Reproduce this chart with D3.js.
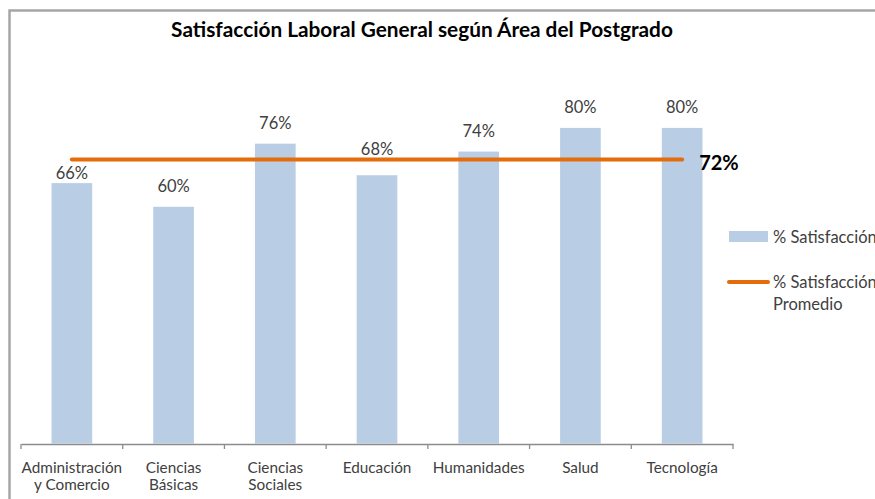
<!DOCTYPE html>
<html lang="es">
<head>
<meta charset="UTF-8" />
<title>Satisfacción Laboral General según Área del Postgrado</title>
<script src="https://cdn.jsdelivr.net/npm/d3@7"></script>
<style>
  body { margin: 0; background: #fff; }
  text { font-family: Lato, "Open Sans", sans-serif; }
</style>
</head>
<body>
<div id="chart"></div>
<script>
// data
const categories = ["Administración y Comercio", "Ciencias Básicas", "Ciencias Sociales",
  "Educación", "Humanidades", "Salud", "Tecnología"];
const tickLabels = [["Administración", "y Comercio"], ["Ciencias", "Básicas"], ["Ciencias", "Sociales"],
  ["Educación"], ["Humanidades"], ["Salud"], ["Tecnología"]];
const satisfaccion = [66, 60, 76, 68, 74, 80, 80];
const promedio = 72;
const legendLabels = [["% Satisfacción"], ["% Satisfacción", "Promedio"]];

const W = 875, H = 499;
const barColor = "#b9cde5", lineColor = "#e46c0a", textColor = "#404040";

const svg = d3.select("#chart").append("svg")
  .attr("width", W).attr("height", H);

svg.append("rect").attr("width", W).attr("height", H).attr("fill", "#fff");

// chart frame (only left and top visible)
svg.append("path")
  .attr("d", `M9.5,${H} V10.5 H${W}`)
  .attr("fill", "none").attr("stroke", "#a6a6a6").attr("stroke-width", 2.5);

svg.append("text")
  .attr("x", 422).attr("y", 37)
  .attr("text-anchor", "middle")
  .attr("font-size", 20.8).attr("font-weight", "bold").attr("fill", "#000")
  .text("Satisfacción Laboral General según Área del Postgrado");

const x = d3.scaleBand()
  .domain(categories)
  .range([21, 733])
  .paddingInner(0.6)
  .paddingOuter(0.3);

const y = d3.scaleLinear()
  .domain([0, 100])
  .range([443.5, 49]);

// bars
svg.append("g")
  .selectAll("rect")
  .data(categories)
  .join("rect")
  .attr("x", d => x(d))
  .attr("y", (d, i) => y(satisfaccion[i]))
  .attr("width", x.bandwidth())
  .attr("height", (d, i) => y(0) - y(satisfaccion[i]))
  .attr("fill", barColor);

// x axis
const xAxis = svg.append("g")
  .attr("transform", `translate(0,${y(0) + 0.5})`)
  .call(d3.axisBottom(x).tickSize(0).tickFormat(""));
xAxis.select(".domain").attr("stroke", "#8c8c8c").attr("stroke-width", 1.3);
// tick marks sit on the band boundaries, like Excel
const step = x.step();
const bounds = d3.range(categories.length + 1).map(i => 21 + i * step);
xAxis.selectAll(".bound")
  .data(bounds)
  .join("line")
  .attr("x1", d => d).attr("x2", d => d)
  .attr("y1", 0).attr("y2", 5)
  .attr("stroke", "#8c8c8c").attr("stroke-width", 1.3);

// tick labels
svg.append("g")
  .selectAll("text")
  .data(categories)
  .join("text")
  .attr("x", d => x(d) + x.bandwidth() / 2)
  .attr("y", 472.5)
  .attr("text-anchor", "middle")
  .attr("font-size", 15.3)
  .attr("fill", textColor)
  .each(function (d, i) {
    d3.select(this).selectAll("tspan")
      .data(tickLabels[i])
      .join("tspan")
      .attr("x", x(d) + x.bandwidth() / 2)
      .attr("dy", (t, j) => j === 0 ? 0 : 17.5)
      .text(t => t);
  });

// average line, from first to last band centre
const first = categories[0], last = categories[categories.length - 1];
const lineY = y(promedio);
svg.append("line")
  .attr("x1", x(first) + x.bandwidth() / 2)
  .attr("x2", x(last) + x.bandwidth() / 2)
  .attr("y1", lineY).attr("y2", lineY)
  .attr("stroke", lineColor).attr("stroke-width", 4)
  .attr("stroke-linecap", "round");

svg.append("text")
  .attr("x", x(last) + x.bandwidth() / 2 + 17)
  .attr("y", lineY + 11)
  .attr("font-size", 20).attr("font-weight", "bold").attr("fill", "#000")
  .text(promedio + "%");

// data labels, moved off the average line when they would touch it
svg.append("g")
  .selectAll("text")
  .data(categories)
  .join("text")
  .attr("x", d => x(d) + x.bandwidth() / 2)
  .attr("y", (d, i) => {
    const top = y(satisfaccion[i]);
    let base = top - 15;
    if (base > lineY - 4 && base - 13 < lineY + 4) {
      base = (top - lineY > 20) ? top - 4 : lineY - 4;
    }
    return base;
  })
  .attr("text-anchor", "middle")
  .attr("font-size", 16.5)
  .attr("fill", textColor)
  .text((d, i) => satisfaccion[i] + "%");

// legend (cut by the right edge, as in the original)
const legend = svg.append("g");
legend.append("rect")
  .attr("x", 729).attr("y", 231).attr("width", 39).attr("height", 11)
  .attr("fill", barColor);
legend.append("line")
  .attr("x1", 729).attr("x2", 768).attr("y1", 282).attr("y2", 282)
  .attr("stroke", lineColor).attr("stroke-width", 4).attr("stroke-linecap", "round");
legend.selectAll("text")
  .data(legendLabels)
  .join("text")
  .attr("x", 773)
  .attr("y", (d, i) => i === 0 ? 243 : 288)
  .attr("font-size", 16.5)
  .attr("fill", textColor)
  .each(function (d) {
    d3.select(this).selectAll("tspan")
      .data(d)
      .join("tspan")
      .attr("x", 773)
      .attr("dy", (t, j) => j === 0 ? 0 : 22)
      .text(t => t);
  });
</script>
</body>
</html>
